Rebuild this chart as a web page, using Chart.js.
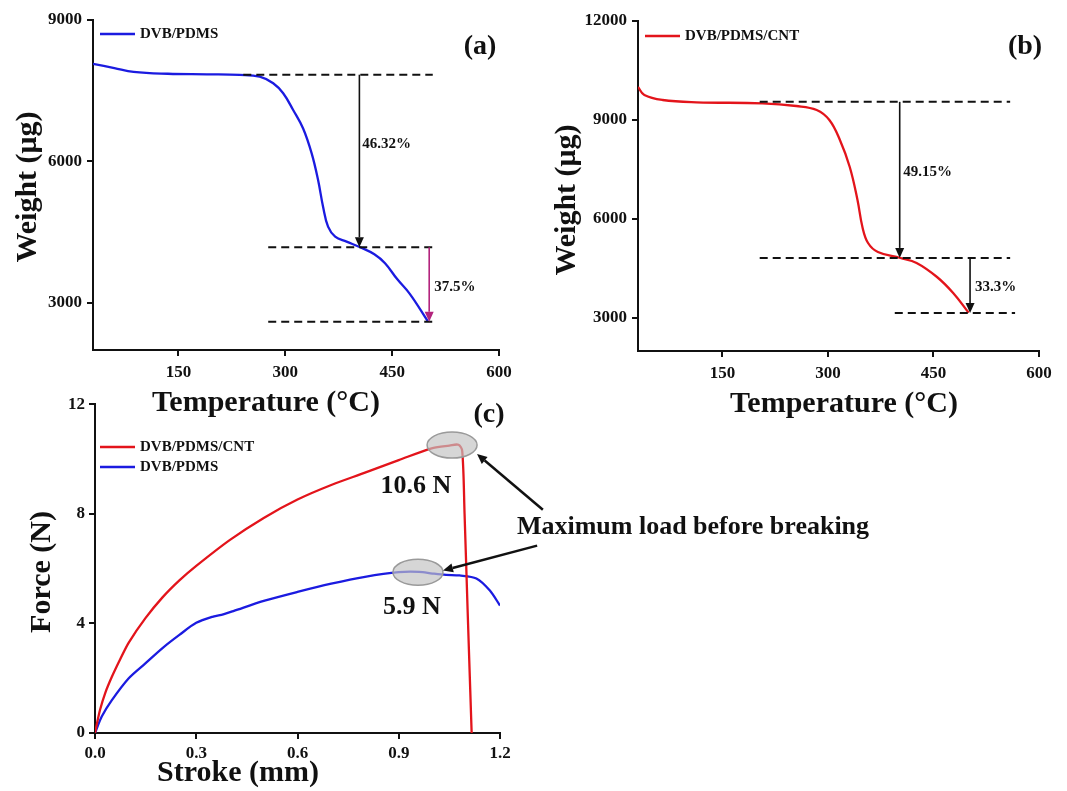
<!DOCTYPE html>
<html>
<head>
<meta charset="utf-8">
<script src="https://cdn.jsdelivr.net/npm/chart.js@4.4.0/dist/chart.umd.min.js"></script>
<style>
  body { margin: 0; background: #fff; }
  #wrap { position: relative; width: 1067px; height: 791px; overflow: hidden; background: #fff; }
  canvas { position: absolute; }
</style>
</head>
<body>
<div id="wrap">
  <canvas id="chartA" width="530" height="430" style="left:0;top:0"></canvas>
  <canvas id="chartB" width="537" height="430" style="left:530px;top:0"></canvas>
  <canvas id="chartC" width="900" height="401" style="left:0;top:390px"></canvas>
</div>
<script>
// --- DATA ---
// (a) TGA of DVB/PDMS
const tempA   = [30, 60, 87, 135, 190, 236, 264, 283, 297, 311, 325, 337, 346, 353, 360, 370, 386, 405, 425, 440, 457, 475, 500];
const weightA = [8070, 7980, 7900, 7860, 7848, 7835, 7797, 7657, 7445, 7091, 6700, 6172, 5606, 5040, 4616, 4404, 4298, 4180, 4030, 3840, 3504, 3186, 2610];

// (b) TGA of DVB/PDMS/CNT
const tempB   = [30, 39, 65, 113, 207, 255, 284, 302, 317, 331, 342, 349, 357, 371, 403, 426, 455, 478, 500];
const weightB = [10000, 9758, 9606, 9536, 9506, 9424, 9303, 9000, 8394, 7576, 6576, 5758, 5273, 5000, 4818, 4667, 4242, 3758, 3160];

// (c) tensile test
const strokeCNT = [0, 0.005, 0.015, 0.03, 0.05, 0.075, 0.1, 0.15, 0.2, 0.25, 0.3, 0.4, 0.5, 0.6, 0.7, 0.8, 0.9, 1.0, 1.05, 1.077, 1.088, 1.095, 1.104, 1.112, 1.116];
const forceCNT  = [0, 0.3, 0.85, 1.45, 2.05, 2.7, 3.3, 4.2, 4.95, 5.57, 6.1, 7.05, 7.85, 8.52, 9.05, 9.5, 9.96, 10.4, 10.49, 10.52, 10.3, 8.0, 4.5, 1.5, 0];
const strokePure = [0, 0.02, 0.05, 0.1, 0.15, 0.2, 0.25, 0.3, 0.35, 0.38, 0.41, 0.5, 0.6, 0.7, 0.8, 0.9, 0.96, 1.0, 1.04, 1.08, 1.13, 1.17, 1.2];
const forcePure  = [0, 0.6, 1.2, 2.0, 2.55, 3.1, 3.58, 4.02, 4.25, 4.33, 4.45, 4.82, 5.15, 5.45, 5.7, 5.87, 5.88, 5.82, 5.77, 5.75, 5.64, 5.2, 4.65];

// tick labels
const tempTicks   = [150, 300, 450, 600];
const weightTicksA = [3000, 6000, 9000];
const weightTicksB = [3000, 6000, 9000, 12000];
const strokeTicks = [0, 0.3, 0.6, 0.9, 1.2];
const forceTicks  = [0, 4, 8, 12];

// annotation values (data units)
const levelsA   = [7840, 4180, 2600];       // plateau weights
const levelSpanA = [[241, 507], [276, 512], [276, 512]];
const dropsA    = [[404, 7840, 4180], [502, 4180, 2600]];
const dropTextA = [['46.32%', 408, 6370], ['37.5%', 509, 3337]];

const levelsB   = [9550, 4820, 3150];
const levelSpanB = [[203, 559], [203, 559], [395, 566]];
const dropsB    = [[402, 9550, 4820], [502, 4820, 3150]];
const dropTextB = [['49.15%', 407, 7424], ['33.3%', 509, 3940]];

const peaks     = [[1.058, 10.51], [0.957, 5.87]];
const peakText  = [['10.6 N', 0.951, 9.02], ['5.9 N', 0.939, 4.58]];
const pointerFrom = [[1.327, 8.15], [1.31, 6.84]];
const pointerTo   = [[1.132, 10.18], [1.031, 5.93]];

// --- STYLE ---
const BLUE = '#1b1be0';
const RED = '#e3141b';
const MAGENTA = '#b3247d';
const SERIF = '"Liberation Serif", "DejaVu Serif", serif';

function font(size) { return `bold ${size}px ${SERIF}`; }

function drawArrow(ctx, x1, y1, x2, y2, color, width) {
  const ang = Math.atan2(y2 - y1, x2 - x1);
  const head = 10, half = 4.5;
  const bx = x2 - head * Math.cos(ang), by = y2 - head * Math.sin(ang);
  ctx.save();
  ctx.strokeStyle = color; ctx.fillStyle = color; ctx.lineWidth = width;
  ctx.beginPath(); ctx.moveTo(x1, y1); ctx.lineTo(bx, by); ctx.stroke();
  ctx.beginPath();
  ctx.moveTo(x2, y2);
  ctx.lineTo(bx + half * Math.sin(ang), by - half * Math.cos(ang));
  ctx.lineTo(bx - half * Math.sin(ang), by + half * Math.cos(ang));
  ctx.closePath(); ctx.fill();
  ctx.restore();
}

function text(ctx, str, x, y, size, align, rotate) {
  ctx.save();
  ctx.fillStyle = '#111';
  ctx.font = font(size);
  ctx.textAlign = align || 'center';
  ctx.textBaseline = 'middle';
  ctx.translate(x, y);
  if (rotate) ctx.rotate(-Math.PI / 2);
  ctx.fillText(str, 0, 0);
  ctx.restore();
}

// legend, axis titles, panel letter: layout given in canvas pixels
function panelDecor(cfg) {
  return {
    id: 'decor',
    afterDraw(chart) {
      const ctx = chart.ctx;
      chart.data.datasets.forEach((ds, i) => {
        const ly = cfg.legend.y + i * 20;
        ctx.save();
        ctx.strokeStyle = ds.borderColor; ctx.lineWidth = 2.5;
        ctx.beginPath(); ctx.moveTo(cfg.legend.x, ly); ctx.lineTo(cfg.legend.x + 35, ly); ctx.stroke();
        ctx.restore();
        text(ctx, ds.label, cfg.legend.x + 40, ly, 15, 'left');
      });
      text(ctx, cfg.xTitle[0], cfg.xTitle[1], cfg.xTitle[2], 30);
      text(ctx, cfg.yTitle[0], cfg.yTitle[1], cfg.yTitle[2], 30, 'center', true);
      text(ctx, cfg.letter[0], cfg.letter[1], cfg.letter[2], 28);
      if (cfg.extra) cfg.extra(chart);
    }
  };
}

function tgaExtras(levels, spans, drops, dropText, arrowColors) {
  return (chart) => {
    const { ctx, scales: { x, y } } = chart;
    ctx.save();
    ctx.strokeStyle = '#111'; ctx.lineWidth = 2; ctx.setLineDash([8, 5]);
    levels.forEach((lv, i) => {
      ctx.beginPath();
      ctx.moveTo(x.getPixelForValue(spans[i][0]), y.getPixelForValue(lv));
      ctx.lineTo(x.getPixelForValue(spans[i][1]), y.getPixelForValue(lv));
      ctx.stroke();
    });
    ctx.restore();
    drops.forEach((d, i) => {
      const px = x.getPixelForValue(d[0]);
      drawArrow(ctx, px, y.getPixelForValue(d[1]), px, y.getPixelForValue(d[2]), arrowColors[i], 1.6);
    });
    dropText.forEach(t => text(ctx, t[0], x.getPixelForValue(t[1]), y.getPixelForValue(t[2]), 15, 'left'));
  };
}

function axes(o) {
  const gridCfg = { display: true, drawOnChartArea: false, drawTicks: true, tickLength: 6, color: '#111', lineWidth: 2 };
  return {
    x: {
      type: 'linear', min: o.xMin, max: o.xMax,
      afterBuildTicks: s => { s.ticks = o.xTicks.map(v => ({ value: v })); },
      afterFit: s => { s.height = o.xHeight; },
      ticks: { font: { family: SERIF, size: 17, weight: 'bold' }, color: '#111', padding: o.xPad, maxRotation: 0,
               callback: o.xFmt || (v => String(v)) },
      grid: gridCfg,
      border: { display: true, color: '#111', width: 2 }
    },
    y: {
      type: 'linear', min: o.yMin, max: o.yMax,
      afterBuildTicks: s => { s.ticks = o.yTicks.map(v => ({ value: v })); },
      afterFit: s => { s.width = o.yWidth; },
      ticks: { font: { family: SERIF, size: 17, weight: 'bold' }, color: '#111', padding: o.yPad,
               callback: v => String(v) },
      grid: gridCfg,
      border: { display: true, color: '#111', width: 2 }
    }
  };
}

const common = {
  responsive: false,
  animation: false,
  plugins: { legend: { display: false }, tooltip: { enabled: false } },
  elements: { point: { radius: 0 }, line: { borderWidth: 2.3, tension: 0.4 } }
};

const xy = (xs, ys) => xs.map((v, i) => ({ x: v, y: ys[i] }));

// (a)
new Chart(document.getElementById('chartA'), {
  type: 'line',
  data: { datasets: [{ label: 'DVB/PDMS', data: xy(tempA, weightA), borderColor: BLUE }] },
  options: {
    ...common,
    layout: { padding: { top: 20, right: 31, left: 0, bottom: 0 } },
    scales: axes({ xMin: 30, xMax: 600, xTicks: tempTicks, xHeight: 80, xPad: 6,
                   yMin: 2000, yMax: 9000, yTicks: weightTicksA, yWidth: 93, yPad: 5 })
  },
  plugins: [panelDecor({
    legend: { x: 100, y: 34 },
    xTitle: ['Temperature (°C)', 266, 403],
    yTitle: ['Weight (μg)', 28, 187],
    letter: ['(a)', 480, 47],
    extra: tgaExtras(levelsA, levelSpanA, dropsA, dropTextA, ['#111', MAGENTA])
  })]
});

// (b)
new Chart(document.getElementById('chartB'), {
  type: 'line',
  data: { datasets: [{ label: 'DVB/PDMS/CNT', data: xy(tempB, weightB), borderColor: RED }] },
  options: {
    ...common,
    layout: { padding: { top: 21, right: 28, left: 0, bottom: 0 } },
    scales: axes({ xMin: 30, xMax: 600, xTicks: tempTicks, xHeight: 79, xPad: 6,
                   yMin: 2000, yMax: 12000, yTicks: weightTicksB, yWidth: 108, yPad: 5 })
  },
  plugins: [panelDecor({
    legend: { x: 115, y: 36 },
    xTitle: ['Temperature (°C)', 314, 404],
    yTitle: ['Weight (μg)', 37, 200],
    letter: ['(b)', 495, 47],
    extra: tgaExtras(levelsB, levelSpanB, dropsB, dropTextB, ['#111', '#111'])
  })]
});

// (c)
new Chart(document.getElementById('chartC'), {
  type: 'line',
  data: { datasets: [
    { label: 'DVB/PDMS/CNT', data: xy(strokeCNT, forceCNT), borderColor: RED, tension: 0.3 },
    { label: 'DVB/PDMS', data: xy(strokePure, forcePure), borderColor: BLUE, tension: 0.3 }
  ] },
  options: {
    ...common,
    layout: { padding: { top: 13, right: 400, left: 0, bottom: 0 } },
    scales: axes({ xMin: 0, xMax: 1.2, xTicks: strokeTicks, xHeight: 58, xPad: 4, xFmt: v => v.toFixed(1),
                   yMin: 0, yMax: 12, yTicks: forceTicks, yWidth: 95, yPad: 4 })
  },
  plugins: [panelDecor({
    legend: { x: 100, y: 57 },
    xTitle: ['Stroke (mm)', 238, 383],
    yTitle: ['Force (N)', 42, 182],
    letter: ['(c)', 489, 25],
    extra: (chart) => {
      const { ctx, scales: { x, y } } = chart;
      peaks.forEach(p => {
        ctx.save();
        ctx.fillStyle = 'rgba(195,195,195,0.68)';
        ctx.strokeStyle = '#9a9a9a'; ctx.lineWidth = 1.5;
        ctx.beginPath();
        ctx.ellipse(x.getPixelForValue(p[0]), y.getPixelForValue(p[1]), 25, 13, 0, 0, Math.PI * 2);
        ctx.fill(); ctx.stroke();
        ctx.restore();
      });
      peakText.forEach(t => text(ctx, t[0], x.getPixelForValue(t[1]), y.getPixelForValue(t[2]), 26));
      pointerFrom.forEach((f, i) => {
        drawArrow(ctx, x.getPixelForValue(f[0]), y.getPixelForValue(f[1]),
                  x.getPixelForValue(pointerTo[i][0]), y.getPixelForValue(pointerTo[i][1]), '#111', 2.5);
      });
      text(ctx, 'Maximum load before breaking', x.getPixelForValue(1.25), y.getPixelForValue(7.49), 26, 'left');
    }
  })]
});
</script>
</body>
</html>
